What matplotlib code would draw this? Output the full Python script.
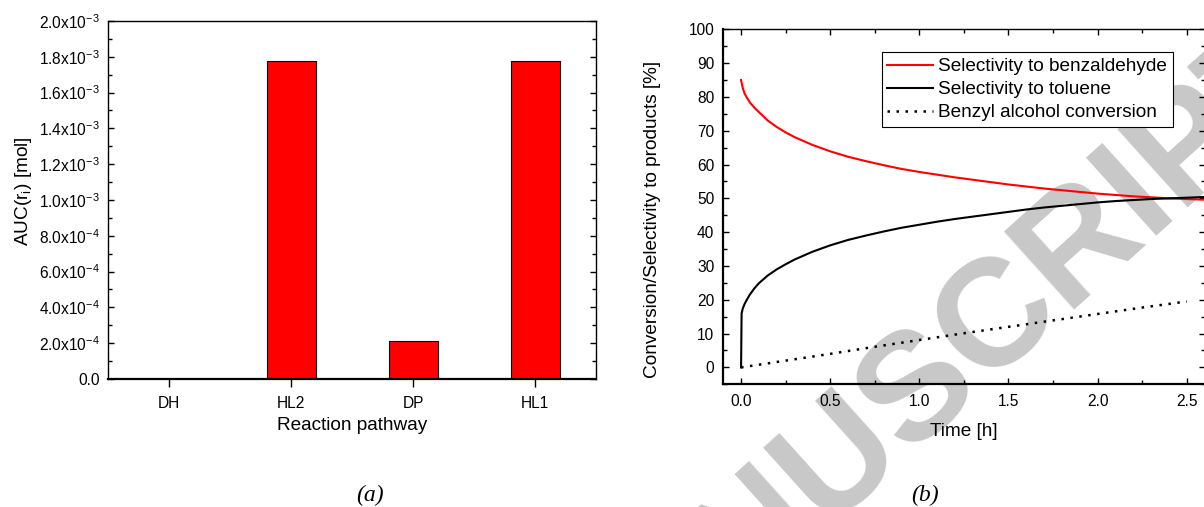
import numpy as np
import matplotlib
matplotlib.use("Agg")
import matplotlib.pyplot as plt
import matplotlib.ticker as mticker

plt.rcParams['font.family'] = ['Liberation Sans', 'DejaVu Sans']
plt.rcParams['mathtext.fontset'] = 'custom'
plt.rcParams['mathtext.rm'] = 'Liberation Sans'
plt.rcParams['mathtext.it'] = 'Liberation Sans:italic'
plt.rcParams['mathtext.bf'] = 'Liberation Sans:bold'

# (a) AUC per reaction pathway
pathways = ["DH", "HL2", "DP", "HL1"]
auc_mol = [0.0, 1.778e-3, 2.13e-4, 1.774e-3]

# (b) selectivity / conversion vs time
time_h = [0, 0.003, 0.01, 0.02, 0.03, 0.05, 0.075, 0.1, 0.15, 0.2, 0.25, 0.3,
          0.4, 0.5, 0.6, 0.7, 0.8, 0.9, 1.0, 1.1, 1.2, 1.3, 1.4, 1.5, 1.6,
          1.7, 1.8, 1.9, 2.0, 2.1, 2.2, 2.3, 2.4, 2.5, 2.6]
sel_benzaldehyde = [85.0, 84.2, 82.5, 81.0, 80.0, 78.3, 76.8, 75.5, 73.0, 71.1,
                    69.5, 68.1, 65.8, 63.9, 62.3, 61.0, 59.8, 58.7, 57.8, 57.0,
                    56.2, 55.5, 54.8, 54.1, 53.5, 52.9, 52.4, 51.9, 51.4, 51.0,
                    50.6, 50.3, 50.0, 49.8, 49.6]
sel_toluene = [0.0, 16.0, 17.5, 18.8, 19.8, 21.6, 23.4, 24.9, 27.2, 29.0,
               30.5, 31.9, 34.2, 36.1, 37.7, 39.0, 40.2, 41.3, 42.2, 43.1,
               43.9, 44.6, 45.3, 46.0, 46.7, 47.3, 47.8, 48.3, 48.8, 49.2,
               49.5, 49.8, 50.0, 50.2, 50.4]
conv_time_h = [0, 0.25, 0.5, 0.75, 1.0, 1.25, 1.5, 1.75, 2.0, 2.25, 2.5]
conversion = [0.0, 2.0, 4.0, 6.1, 8.1, 10.1, 12.0, 13.9, 15.8, 17.7, 19.5]


def sci_fmt(v, pos):
    if abs(v) < 1e-12:
        return "0.0"
    e = int(np.floor(np.log10(abs(v)) + 1e-9))
    m = v / 10.0 ** e
    return r"%.1fx10$^{\mathregular{%d}}$" % (m, e)


fig = plt.figure(figsize=(12.04, 5.07), dpi=100)

# watermark
fig.text(0.785, 0.178, "MANUSCRIPT", fontsize=110, fontweight="bold",
         color="#c8c8c8", rotation=42, rotation_mode="anchor",
         ha="center", va="baseline", zorder=-1)

# ---- (a) ----
ax1 = fig.add_axes([0.0900, 0.2525, 0.4051, 0.7061])
ax1.set_facecolor("none")
x = np.arange(len(pathways))
ax1.bar(x, auc_mol, width=0.4, color="#ff0000", edgecolor="black", linewidth=0.8)
ax1.set_xlim(-0.5, 3.5)
ax1.set_ylim(0, 2.0e-3)
ax1.set_xticks(x)
ax1.set_xticklabels(pathways)
ax1.yaxis.set_major_locator(mticker.MultipleLocator(2e-4))
ax1.yaxis.set_minor_locator(mticker.MultipleLocator(1e-4))
ax1.yaxis.set_major_formatter(mticker.FuncFormatter(sci_fmt))
ax1.tick_params(axis="x", direction="out", length=6, width=1, labelsize=11.2, pad=6)
ax1.tick_params(axis="y", which="both", direction="in", left=True, right=True,
                labelsize=11.2, pad=6, width=1)
ax1.tick_params(axis="y", which="major", length=4.5)
ax1.tick_params(axis="y", which="minor", length=3)
ax1.set_xlabel("Reaction pathway", fontsize=13.7)
ax1.set_ylabel(r"AUC(r$_\mathregular{i}$) [mol]", fontsize=13.7)
ax1.xaxis.set_label_coords(0.5, -0.105)
ax1.yaxis.set_label_coords(-0.152, 0.525)
for s in ax1.spines.values():
    s.set_linewidth(1.0)
ax1.spines["bottom"].set_linewidth(1.6)

# ---- (b) ----
ax2 = fig.add_axes([0.6007, 0.2420, 0.3998, 0.7002])
ax2.set_facecolor("none")
ax2.plot(time_h, sel_benzaldehyde, color="#ff0000", lw=1.5,
         label="Selectivity to benzaldehyde")
ax2.plot(time_h, sel_toluene, color="black", lw=1.5,
         label="Selectivity to toluene")
ax2.plot(conv_time_h, conversion, color="black", lw=1.8, linestyle=(0, (1, 2.6)),
         label="Benzyl alcohol conversion")
ax2.set_xlim(-0.1, 2.6)
ax2.set_ylim(-5, 100)
ax2.xaxis.set_major_locator(mticker.MultipleLocator(0.5))
ax2.xaxis.set_minor_locator(mticker.MultipleLocator(0.25))
ax2.xaxis.set_major_formatter(mticker.FormatStrFormatter("%.1f"))
ax2.yaxis.set_major_locator(mticker.MultipleLocator(10))
ax2.yaxis.set_minor_locator(mticker.MultipleLocator(5))
ax2.tick_params(which="both", direction="in", top=True, right=True,
                labelsize=11.2, width=1)
ax2.tick_params(which="major", length=4.5)
ax2.tick_params(which="minor", length=3)
ax2.tick_params(axis="x", pad=7)
ax2.tick_params(axis="y", pad=6.5)
ax2.set_xlabel("Time [h]", fontsize=13.7)
ax2.set_ylabel("Conversion/Selectivity to products [%]", fontsize=13.7)
ax2.xaxis.set_label_coords(0.5, -0.108)
ax2.yaxis.set_label_coords(-0.129, 0.464)
for s in ax2.spines.values():
    s.set_linewidth(1.0)
ax2.spines["bottom"].set_linewidth(1.6)
ax2.spines["left"].set_linewidth(1.6)

leg = ax2.legend(loc="upper right", bbox_to_anchor=(0.934, 0.935),
                 borderaxespad=0, fontsize=13.7, frameon=True, fancybox=False,
                 edgecolor="black", framealpha=1, borderpad=0.3,
                 labelspacing=0.3, handlelength=2.4, handletextpad=0.28)
leg.get_frame().set_linewidth(0.8)

fig.text(0.3075, 0.012, "(a)", fontsize=17, style="italic",
         family=["Liberation Serif", "DejaVu Serif"], ha="center")
fig.text(0.768, 0.012, "(b)", fontsize=17, style="italic",
         family=["Liberation Serif", "DejaVu Serif"], ha="center")

fig.savefig("out.png", dpi=100)
